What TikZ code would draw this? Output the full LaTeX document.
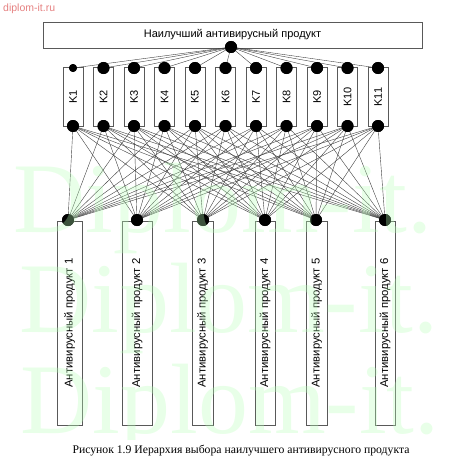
\documentclass[tikz,border=0pt]{standalone}
\usepackage{fontspec}
\setmainfont{Liberation Sans}
\newfontfamily\seriffont{Liberation Serif}
\definecolor{wmgreen}{rgb}{0.72,1,0.72}
\definecolor{wmpink}{rgb}{0.9,0.5,0.5}
\begin{document}
\begin{tikzpicture}[x=1pt,y=-1pt,
  box/.style={draw=black!65, line width=0.5pt, inner sep=0pt},
  lbl/.style={font=\fontsize{11}{13}\selectfont},
  kbox/.style={box, lbl, rotate=90, minimum width=59pt, minimum height=20pt},
  pbox/.style={box, lbl, rotate=90, minimum width=204pt, font=\fontsize{11.3}{13}\selectfont},
  dot/.style={circle, fill=black, inner sep=0pt, minimum size=12pt},
  sdot/.style={dot, minimum size=8pt},
  link/.style={draw=black!75, line width=0.4pt},
  wm/.style={font=\seriffont\fontsize{100}{100}\selectfont, text=wmgreen, text opacity=0.32, inner sep=0pt, anchor=base west}
]
\useasboundingbox (0,0) rectangle (454,460);
% top box
\node[box, lbl, minimum width=379pt, minimum height=26pt] (top) at (232.5,35) {Наилучший антивирусный продукт};
% criteria boxes
\foreach \i in {1,...,11} {
  \pgfmathsetmacro\kx{73+30.5*(\i-1)}
  \node[kbox] (K\i) at (\kx,97) {K\i};
}
% product boxes
\foreach \j/\cx/\w in {1/69.5/25, 2/137/30, 3/202.5/21, 4/265/20, 5/316.5/21, 6/385/20} {
  \node[pbox, minimum height=\w pt] (P\j) at (\cx,323) {Антивирусный продукт \j};
}
% dots
\node[dot] (t) at (231,47) {};
\foreach \i in {1,...,11} {
  \pgfmathsetmacro\kx{73+30.5*(\i-1)}
  \ifnum\i=1
    \node[sdot] (kt\i) at (\kx,68) {};
  \else
    \node[dot] (kt\i) at (\kx,68) {};
  \fi
  \node[dot] (kb\i) at (\kx,126) {};
}
\foreach \j/\dx in {1/68, 2/137, 3/203, 4/265, 5/316, 6/385} {
  \node[dot] (pd\j) at (\dx,220) {};
}
% links
\foreach \i in {1,...,11} {
  \draw[link] (t.center) -- (kt\i.center);
  \foreach \j in {1,...,6} {
    \draw[link] (kb\i.center) -- (pd\j.center);
  }
}
% redraw dots on top of links
\fill (t) circle (6pt);
\foreach \i in {1,...,11} {
  \ifnum\i=1 \fill (kt\i) circle (4pt); \else \fill (kt\i) circle (6pt); \fi
  \fill (kb\i) circle (6pt);
}
\foreach \j in {1,...,6} { \fill (pd\j) circle (6pt); }
% watermark
\begin{scope}
  \clip (0,0) rectangle (454,439);
  \node[wm] (w1) at (13,232) {Diplom-it.};
  \node[wm] (w2) at (19,332) {Diplom-it.};
  \node[wm] (w3) at (20,433) {Dipl\smash{\raisebox{0pt}[\height][0pt]{o}}m-it.};
\end{scope}
\node[text=wmpink, font=\fontsize{10.5}{12}\selectfont, anchor=west, inner sep=0pt] (site) at (3,8.5) {diplom-it.ru};
% caption
\node[font=\seriffont\fontsize{11.7}{13}\selectfont, inner sep=0pt] (cap) at (241,451) {Рисунок 1.9 Иерархия выбора наилучшего антивирусного продукта};
\end{tikzpicture}
\end{document}
